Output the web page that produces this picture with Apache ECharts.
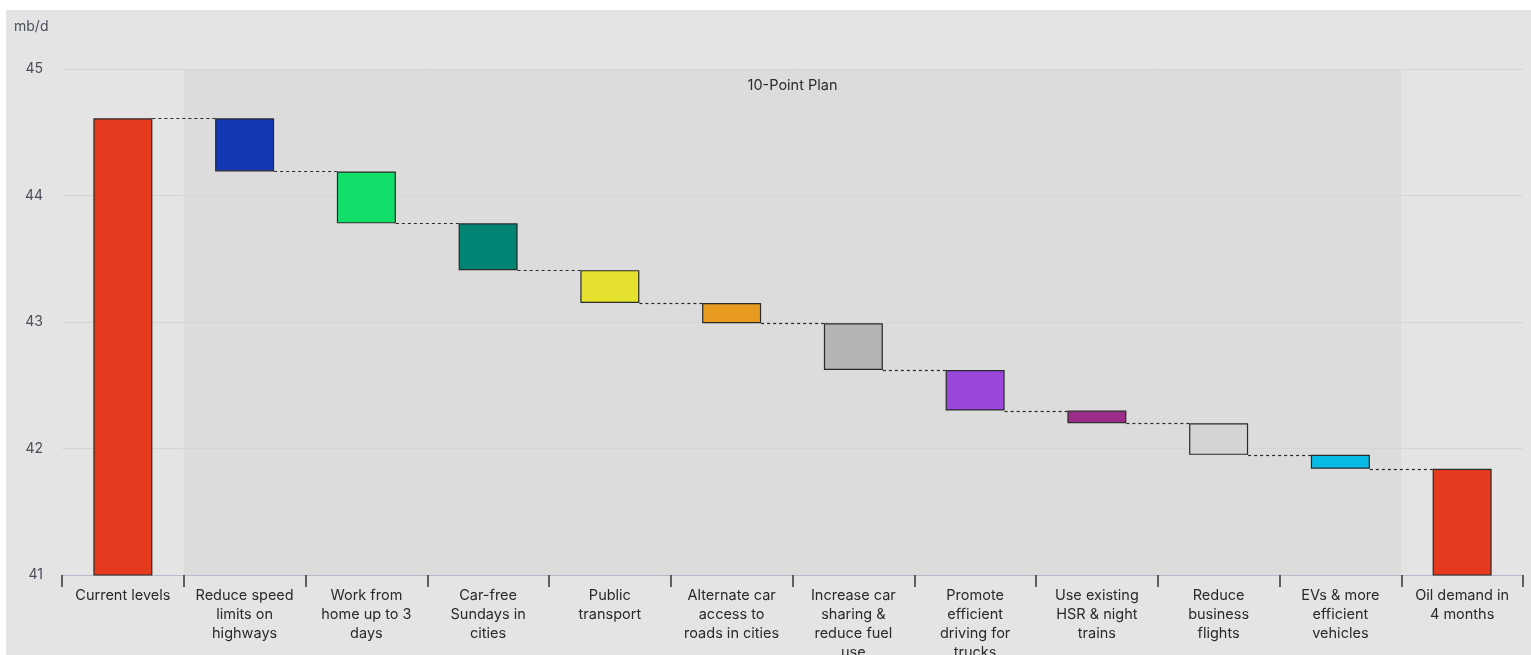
<!DOCTYPE html>
<html>
<head>
<meta charset="utf-8">
<script src="https://cdn.jsdelivr.net/npm/echarts@6/dist/echarts.min.js"></script>
<style>
  html, body { margin: 0; padding: 0; background: #ffffff; width: 1531px; height: 655px; overflow: hidden; }
  #chart { position: absolute; left: 6px; top: 10px; width: 1525px; height: 645px; }
</style>
</head>
<body>
<div id="chart"></div>
<script>
// Oil demand waterfall: current level, savings of each measure, level after 4 months (mb/d)
const categories = [
  'Current levels',
  'Reduce speed\nlimits on\nhighways',
  'Work from\nhome up to 3\ndays',
  'Car-free\nSundays in\ncities',
  'Public\ntransport',
  'Alternate car\naccess to\nroads in cities',
  'Increase car\nsharing &\nreduce fuel\nuse',
  'Promote\nefficient\ndriving for\ntrucks',
  'Use existing\nHSR & night\ntrains',
  'Reduce\nbusiness\nflights',
  'EVs & more\nefficient\nvehicles',
  'Oil demand in\n4 months'
];
const currentLevel = 44.61;
const reductions = [0.42, 0.41, 0.37, 0.26, 0.16, 0.37, 0.32, 0.10, 0.25, 0.11];
const yTicks = [41, 42, 43, 44, 45];
const planLabel = '10-Point Plan';
const unitLabel = 'mb/d';

const totalColor = '#e63a1e';
const stepColors = ['#1438b4', '#12df6a', '#008574', '#e4e22e', '#e69b1e',
                    '#b4b4b4', '#9a48dc', '#992d88', '#d4d4d4', '#08bbe4'];

// running levels after each step
const levels = [currentLevel];
reductions.forEach(r => levels.push(+(levels[levels.length - 1] - r).toFixed(3)));
const finalLevel = levels[levels.length - 1];

const BAR_W = 59;
const FONT = 'Inter, "Noto Sans", sans-serif';

// invisible base + visible delta, stacked
const baseData = [0];
const deltaData = [{ value: currentLevel, itemStyle: { color: totalColor } }];
reductions.forEach((r, i) => {
  baseData.push(levels[i + 1]);
  deltaData.push({ value: r, itemStyle: { color: stepColors[i] } });
});
baseData.push(0);
deltaData.push({ value: finalLevel, itemStyle: { color: totalColor } });

// connector data: [category index, level]
const connectorData = levels.map((v, i) => [i, v]);

const chart = echarts.init(document.getElementById('chart'), null,
  { renderer: 'canvas', width: 1525, height: 645 });

chart.setOption({
  backgroundColor: '#e4e4e4',
  animation: false,
  textStyle: { fontFamily: FONT },
  grid: { left: 56, width: 1461, top: 59, height: 506, containLabel: false, outerBoundsMode: 'none' },
  graphic: [{
    type: 'text', left: 8, top: 10,
    style: { text: unitLabel, fill: '#4a4f5a', font: '14px ' + FONT }
  }],
  xAxis: {
    type: 'category',
    data: categories,
    boundaryGap: true,
    axisLine: { show: true, lineStyle: { color: '#b3bbcd', width: 1 } },
    axisTick: { show: true, length: 12, lineStyle: { color: '#333', width: 1.5 } },
    axisLabel: {
      interval: 0, margin: 11, color: '#2a2a2a', fontSize: 14.5, lineHeight: 19,
      fontFamily: FONT, align: 'center'
    },
    splitLine: { show: false }
  },
  yAxis: {
    type: 'value',
    min: yTicks[0], max: yTicks[yTicks.length - 1], interval: 1,
    axisLine: { show: false },
    axisTick: { show: false },
    axisLabel: { color: '#4a4f5a', fontSize: 14, margin: 19, fontFamily: FONT },
    splitLine: { show: true, lineStyle: { color: '#d5d5d5', width: 1 } }
  },
  series: [
    {
      // shaded band behind the ten measures
      type: 'custom',
      z: -1,
      silent: true,
      data: [[1, reductions.length]],
      renderItem: function (params, api) {
        const bw = api.size([1, 0])[0];
        const x0 = api.coord([api.value(0), yTicks[0]])[0] - bw / 2;
        const x1 = api.coord([api.value(1), yTicks[0]])[0] + bw / 2;
        const cs = params.coordSys;
        return {
          type: 'group',
          children: [
            { type: 'rect', shape: { x: x0, y: cs.y, width: x1 - x0, height: cs.height },
              style: { fill: '#dcdcdc' } },
            { type: 'text', x: (x0 + x1) / 2, y: cs.y + 17,
              style: { text: planLabel, fill: '#2a2a2a', font: '14.5px ' + FONT,
                       align: 'center', verticalAlign: 'middle' } }
          ]
        };
      }
    },
    {
      type: 'bar', stack: 'w', barWidth: BAR_W,
      itemStyle: { color: 'transparent', borderWidth: 0 },
      emphasis: { disabled: true },
      data: baseData
    },
    {
      type: 'bar', stack: 'w', barWidth: BAR_W,
      itemStyle: { borderColor: '#2a2a2a', borderWidth: 1.2 },
      emphasis: { disabled: true },
      data: deltaData
    },
    {
      // dotted connectors between consecutive bars
      type: 'custom',
      silent: true,
      z: 3,
      data: connectorData,
      renderItem: function (params, api) {
        const i = api.value(0);
        if (i >= categories.length - 1) return;
        const p0 = api.coord([i, api.value(1)]);
        const p1 = api.coord([i + 1, api.value(1)]);
        return {
          type: 'line',
          shape: { x1: p0[0] + BAR_W / 2, y1: Math.round(p0[1]) + 0.5,
                   x2: p1[0] - BAR_W / 2, y2: Math.round(p0[1]) + 0.5 },
          style: { stroke: '#2a2a2a', lineWidth: 1.2, lineDash: [3, 3] }
        };
      }
    }
  ]
});
</script>
</body>
</html>
